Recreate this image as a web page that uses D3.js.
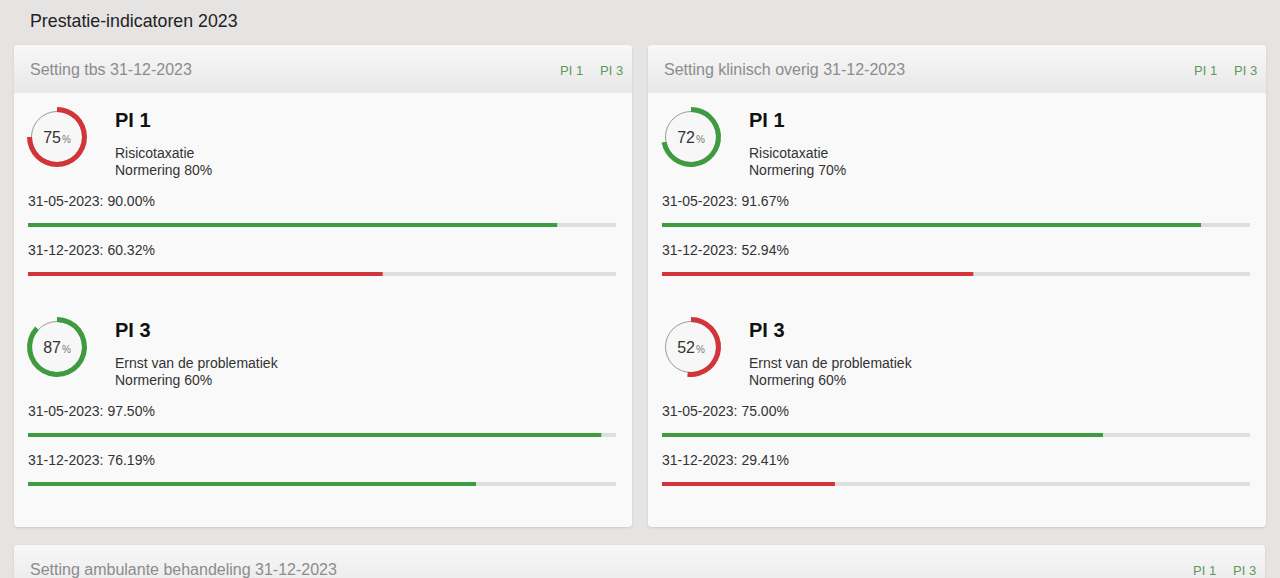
<!DOCTYPE html>
<html>
<head>
<meta charset="utf-8">
<script src="https://cdn.jsdelivr.net/npm/d3@7"></script>
<style>
  html, body { margin: 0; padding: 0; background: #e5e4e2; overflow: hidden; }
  text { font-family: "Liberation Sans", Arial, sans-serif; }
</style>
</head>
<body>
<div id="chart"></div>
<script>
// data
var pageTitle = "Prestatie-indicatoren 2023";
var settings = ["Setting tbs 31-12-2023", "Setting klinisch overig 31-12-2023", "Setting ambulante behandeling 31-12-2023"];
var indicators = ["PI 1", "PI 3"];
var descriptions = ["Risicotaxatie", "Ernst van de problematiek"];
var periods = ["31-05-2023", "31-12-2023"];
var norms = [[80, 60], [70, 60]];
var gaugeValues = [[75, 87], [72, 52]];
var mayValues = [[90.00, 97.50], [91.67, 75.00]];
var decValues = [[60.32, 76.19], [52.94, 29.41]];

var width = 1280, height = 578;
var green = "#3f9b3f", red = "#d1353a";

var svg = d3.select("#chart")
    .append("svg")
    .attr("width", width)
    .attr("height", height);

var defs = svg.append("defs");
var grad = defs.append("linearGradient").attr("id", "hdr").attr("x1", 0).attr("y1", 0).attr("x2", 0).attr("y2", 1);
grad.append("stop").attr("offset", "0%").attr("stop-color", "#f8f8f8");
grad.append("stop").attr("offset", "100%").attr("stop-color", "#e8e8e8");
var shadow = defs.append("filter").attr("id", "sh").attr("x", "-5%").attr("y", "-5%").attr("width", "110%").attr("height", "110%");
shadow.append("feDropShadow").attr("dx", 0).attr("dy", 1).attr("stdDeviation", 1.2).attr("flood-color", "#000").attr("flood-opacity", 0.12);

svg.append("text")
    .attr("x", 30).attr("y", 27)
    .attr("font-size", 17.8).attr("fill", "#222")
    .text(pageTitle);

// panel layout
var panelW = 618, headerH = 48;
var panelX = [14, 648, 14], panelY = [45, 45, 545], panelWidths = [panelW, panelW, 1251], panelH = [482, 482, 100];

var barScale = d3.scaleLinear().domain([0, 100]).range([0, 588]);
var angle = d3.scaleLinear().domain([0, 100]).range([0, 2 * Math.PI]);
var arc = d3.arc().innerRadius(25).outerRadius(30).startAngle(0);

var colorFor = function(v, n) { return v >= n ? green : red; };

settings.forEach(function(name, s) {
  var g = svg.append("g").attr("transform", "translate(" + panelX[s] + "," + panelY[s] + ")");
  g.append("rect")
      .attr("width", panelWidths[s]).attr("height", panelH[s])
      .attr("rx", 4).attr("fill", "#f9f9f9")
      .attr("filter", "url(#sh)");
  g.append("path")
      .attr("d", "M0," + headerH + "V4a4,4 0 0 1 4,-4H" + (panelWidths[s] - 4) + "a4,4 0 0 1 4,4V" + headerH + "Z")
      .attr("fill", "url(#hdr)");
  g.append("text")
      .attr("x", 16).attr("y", 30)
      .attr("font-size", 16).attr("fill", "#8c8c8c")
      .text(name);

  // header links
  g.selectAll(".lnk")
      .data(indicators)
      .enter().append("text")
      .attr("x", function(d, i) { return panelWidths[s] - 72 + i * 40; })
      .attr("y", 30)
      .attr("font-size", 13).attr("fill", "#5c9a5c")
      .text(function(d) { return d; });

  if (s > 1) return;

  indicators.forEach(function(pi, k) {
    var b = g.append("g").attr("transform", "translate(0," + (k * 210) + ")");

    // gauge
    var gc = b.append("g").attr("transform", "translate(43,92)");
    gc.append("circle").attr("r", 25.5).attr("fill", "#f7f7f7").attr("stroke", "#9a9a9a").attr("stroke-width", 1);
    gc.append("path")
        .attr("d", arc({endAngle: angle(gaugeValues[s][k])}))
        .attr("fill", colorFor(gaugeValues[s][k], norms[s][k]));
    var gt = gc.append("text").attr("text-anchor", "middle").attr("y", 5.5).attr("x", 0);
    gt.append("tspan").attr("font-size", 16).attr("fill", "#333").text(gaugeValues[s][k]);
    gt.append("tspan").attr("font-size", 10).attr("fill", "#777").attr("dx", 1).text("%");

    b.append("text").attr("x", 101).attr("y", 82)
        .attr("font-size", 20).attr("font-weight", "bold").attr("fill", "#111")
        .text(pi);
    b.append("text").attr("x", 101).attr("y", 113)
        .attr("font-size", 14).attr("fill", "#333")
        .text(descriptions[k]);
    b.append("text").attr("x", 101).attr("y", 130)
        .attr("font-size", 14).attr("fill", "#333")
        .text("Normering " + norms[s][k] + "%");

    var vals = [mayValues[s][k], decValues[s][k]];
    vals.forEach(function(v, p) {
      var row = b.append("g").attr("transform", "translate(14," + (161 + p * 49) + ")");
      row.append("text").attr("x", 0).attr("y", 0)
          .attr("font-size", 14).attr("fill", "#333")
          .text(periods[p] + ": " + v.toFixed(2) + "%");
      row.append("rect")
          .attr("x", 0).attr("y", 17)
          .attr("width", barScale(100)).attr("height", 4)
          .attr("fill", "#dedede");
      row.append("rect")
          .attr("x", 0).attr("y", 17)
          .attr("width", barScale(v)).attr("height", 4)
          .attr("fill", colorFor(v, norms[s][k]));
    });
  });
});
</script>
</body>
</html>
